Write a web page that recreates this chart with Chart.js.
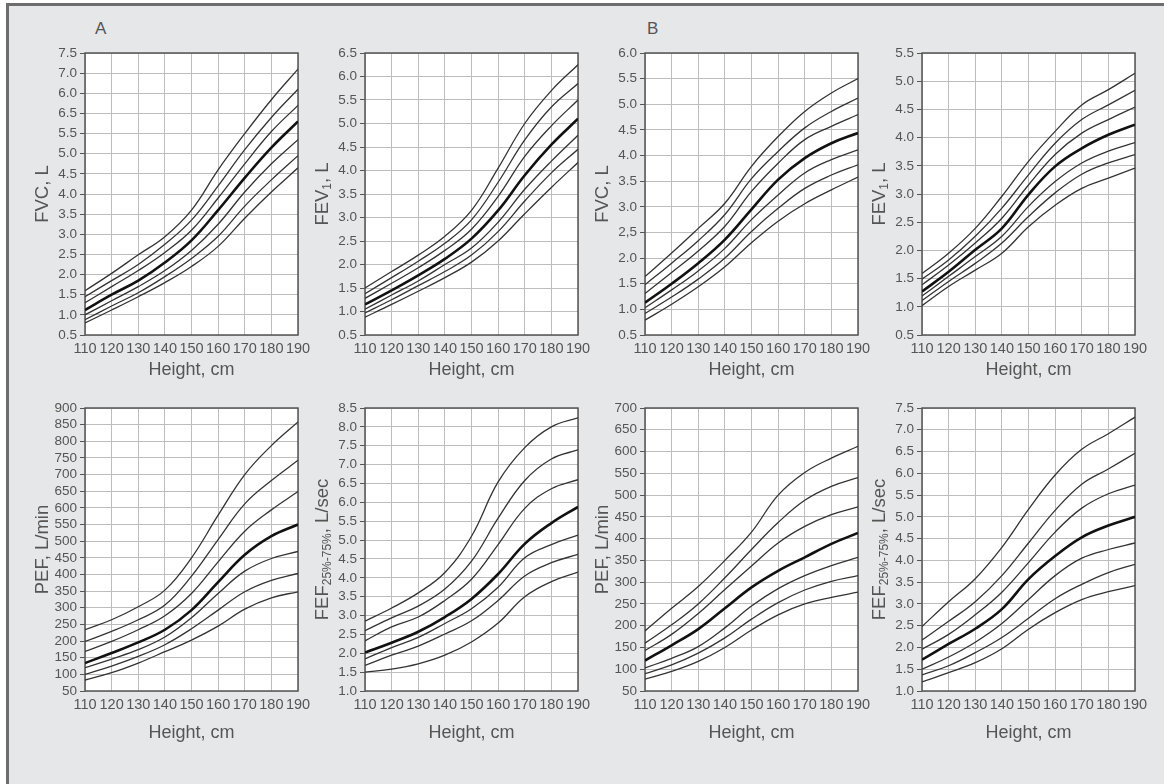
<!DOCTYPE html>
<html>
<head>
<meta charset="utf-8">
<script src="https://cdn.jsdelivr.net/npm/chart.js@4.4.0/dist/chart.umd.min.js"></script>
<style>
html, body { margin: 0; padding: 0; background: #fff; width: 1164px; height: 784px; overflow: hidden; font-family: "Liberation Sans", Arial, Helvetica, sans-serif; }
#frame { position: absolute; left: 6px; top: 3px; width: 1200px; height: 850px; background: #e6e7e8; border-left: 3px solid #6d6d6d; border-top: 3px solid #6d6d6d; }
canvas { position: absolute; }
.tag { position: absolute; font-size: 17px; line-height: 17px; color: #555; }
</style>
</head>
<body>
<div id="frame"></div>
<div class="tag" style="left:95px;top:20px">A</div>
<div class="tag" style="left:647px;top:20px">B</div>

<script>
// height axis, cm
const heights = [110, 120, 130, 140, 150, 160, 170, 180, 190];

// each panel: 7 percentile curves, top to bottom (4th one is the bold median)
const fvcA = [
  [1.60, 2.03, 2.49, 2.94, 3.60, 4.60, 5.50, 6.34, 7.10],
  [1.45, 1.85, 2.25, 2.75, 3.35, 4.20, 5.10, 5.90, 6.60],
  [1.30, 1.70, 2.10, 2.55, 3.10, 3.90, 4.75, 5.55, 6.20],
  [1.12, 1.50, 1.85, 2.30, 2.85, 3.60, 4.40, 5.15, 5.80],
  [1.00, 1.35, 1.70, 2.10, 2.60, 3.25, 4.05, 4.75, 5.35],
  [0.88, 1.22, 1.55, 1.95, 2.40, 2.95, 3.70, 4.35, 4.95],
  [0.80, 1.12, 1.45, 1.80, 2.20, 2.70, 3.40, 4.05, 4.65]
];
const fev1A = [
  [1.50, 1.85, 2.20, 2.60, 3.15, 4.05, 5.00, 5.70, 6.25],
  [1.38, 1.72, 2.07, 2.45, 2.95, 3.75, 4.65, 5.35, 5.85],
  [1.28, 1.60, 1.93, 2.30, 2.75, 3.45, 4.30, 4.95, 5.50],
  [1.15, 1.45, 1.77, 2.12, 2.55, 3.15, 3.90, 4.55, 5.10],
  [1.05, 1.35, 1.65, 2.00, 2.35, 2.90, 3.60, 4.20, 4.75],
  [0.97, 1.25, 1.55, 1.85, 2.20, 2.70, 3.35, 3.95, 4.45],
  [0.88, 1.15, 1.43, 1.72, 2.05, 2.50, 3.08, 3.64, 4.17]
];
const fvcB = [
  [1.64, 2.10, 2.58, 3.07, 3.79, 4.37, 4.86, 5.22, 5.50],
  [1.48, 1.90, 2.34, 2.85, 3.55, 4.08, 4.54, 4.86, 5.12],
  [1.31, 1.72, 2.14, 2.62, 3.30, 3.85, 4.31, 4.57, 4.80],
  [1.13, 1.50, 1.90, 2.36, 2.95, 3.53, 3.95, 4.24, 4.44],
  [1.03, 1.38, 1.75, 2.19, 2.75, 3.23, 3.66, 3.92, 4.11],
  [0.92, 1.24, 1.59, 2.00, 2.52, 2.97, 3.36, 3.62, 3.82],
  [0.79, 1.10, 1.44, 1.83, 2.30, 2.72, 3.06, 3.33, 3.58]
];
const fev1B = [
  [1.59, 1.95, 2.39, 2.96, 3.58, 4.11, 4.58, 4.85, 5.14],
  [1.49, 1.83, 2.25, 2.75, 3.34, 3.90, 4.32, 4.58, 4.84],
  [1.39, 1.74, 2.13, 2.57, 3.16, 3.70, 4.08, 4.32, 4.54],
  [1.27, 1.62, 2.01, 2.39, 2.99, 3.49, 3.81, 4.05, 4.23],
  [1.19, 1.54, 1.89, 2.25, 2.78, 3.22, 3.55, 3.76, 3.91],
  [1.11, 1.45, 1.77, 2.13, 2.60, 3.02, 3.35, 3.55, 3.70],
  [1.02, 1.36, 1.65, 1.95, 2.42, 2.80, 3.10, 3.28, 3.46]
];
const pefA = [
  [234, 264, 303, 353, 450, 578, 700, 787, 858],
  [199, 229, 264, 308, 395, 505, 612, 682, 743],
  [169, 199, 234, 276, 343, 438, 530, 594, 649],
  [134, 164, 196, 234, 293, 377, 459, 515, 550],
  [120, 146, 174, 212, 270, 343, 410, 448, 469],
  [100, 125, 154, 189, 237, 293, 348, 382, 403],
  [83, 105, 134, 168, 203, 245, 296, 330, 348]
];
const fefA = [
  [2.85, 3.20, 3.60, 4.14, 5.10, 6.54, 7.45, 8.00, 8.24],
  [2.60, 2.94, 3.25, 3.70, 4.44, 5.58, 6.58, 7.15, 7.39],
  [2.33, 2.70, 2.96, 3.40, 3.96, 4.88, 5.84, 6.36, 6.60],
  [2.02, 2.28, 2.57, 2.96, 3.44, 4.10, 4.90, 5.45, 5.88],
  [1.85, 2.15, 2.42, 2.79, 3.18, 3.75, 4.53, 4.88, 5.13],
  [1.68, 1.95, 2.19, 2.51, 2.86, 3.40, 4.05, 4.40, 4.62],
  [1.50, 1.58, 1.72, 1.95, 2.30, 2.80, 3.50, 3.90, 4.15]
];
const pefB = [
  [188, 240, 290, 350, 415, 500, 552, 585, 612],
  [160, 202, 250, 310, 375, 437, 488, 520, 540],
  [143, 180, 228, 283, 337, 390, 428, 455, 473],
  [120, 155, 192, 240, 288, 326, 357, 388, 413],
  [103, 125, 152, 195, 245, 285, 315, 338, 357],
  [90, 110, 137, 172, 215, 253, 282, 302, 315],
  [77, 95, 118, 150, 190, 225, 250, 265, 277]
];
const fefB = [
  [2.48, 3.05, 3.58, 4.30, 5.17, 5.96, 6.55, 6.91, 7.29],
  [2.17, 2.60, 3.05, 3.65, 4.40, 5.15, 5.75, 6.10, 6.46],
  [1.96, 2.30, 2.75, 3.27, 3.95, 4.65, 5.20, 5.53, 5.73],
  [1.72, 2.08, 2.43, 2.88, 3.57, 4.10, 4.53, 4.80, 5.00],
  [1.50, 1.78, 2.12, 2.55, 3.10, 3.65, 4.05, 4.25, 4.40],
  [1.37, 1.58, 1.88, 2.23, 2.67, 3.12, 3.45, 3.72, 3.91],
  [1.21, 1.42, 1.65, 1.97, 2.42, 2.80, 3.10, 3.28, 3.42]
];

// y tick labels, bottom to top (as printed, typos included)
const ticksFvcA = ['0.5', '1.0', '1.5', '2.0', '2.5', '3.0', '3.5', '4.0', '4.5', '5.0', '5.5', '6.5', '6.0', '7.0', '7.5'];
const ticksFev1A = ['0.5', '1.0', '1.5', '2.0', '2.5', '3.0', '3.5', '4.0', '4.5', '5.0', '5.5', '6.0', '6.5'];
const ticksFvcB = ['0.5', '1.0', '1.5', '2.0', '2,5', '3.0', '3.5', '4.0', '4.5', '5.0', '5.5', '6.0'];
const ticksFev1B = ['0.5', '1.0', '1.5', '2.0', '2.5', '3.0', '3.5', '4.0', '4.5', '5.0', '5.5'];
const ticksPefA = ['50', '100', '150', '200', '250', '300', '350', '400', '450', '500', '550', '600', '650', '700', '750', '800', '850', '900'];
const ticksFefA = ['1.0', '1.5', '2.0', '2.5', '3.0', '3.5', '4.0', '4.5', '5.0', '5.5', '6.0', '6.5', '7.0', '7.5', '8.0', '8.5'];
const ticksPefB = ['50', '100', '150', '200', '250', '300', '350', '400', '450', '500', '550', '600', '650', '700'];
const ticksFefB = ['1.0', '1.5', '2.0', '2.5', '3.0', '3.5', '4.0', '4.5', '5.0', '5.5', '6.0', '6.5', '7.0', '7.5'];

// y axis titles, [text, subscript?]
const titleFvc = [['FVC, L', false]];
const titleFev1 = [['FEV', false], ['1', true], [', L', false]];
const titlePef = [['PEF, L/min', false]];
const titleFef = [['FEF', false], ['25%-75%', true], [', L/sec', false]];

const FONT = '"Liberation Sans", Arial, Helvetica, sans-serif';
Chart.defaults.font.family = FONT;
Chart.defaults.color = '#555';

const PAD_L = 50, Y_W = 30, PAD_T = 12, PAD_R = 20, X_H = 30, PAD_B = 30;
const PLOT_W = 213;

const panels = [
  { rows: fvcA,  ticks: ticksFvcA,  title: titleFvc,  min: 0.5, max: 7.5, step: 0.5, left: 85,  top: 53,  h: 282, gap: 35 },
  { rows: fev1A, ticks: ticksFev1A, title: titleFev1, min: 0.5, max: 6.5, step: 0.5, left: 365, top: 53,  h: 282, gap: 35 },
  { rows: fvcB,  ticks: ticksFvcB,  title: titleFvc,  min: 0.5, max: 6.0, step: 0.5, left: 645, top: 53,  h: 282, gap: 35 },
  { rows: fev1B, ticks: ticksFev1B, title: titleFev1, min: 0.5, max: 5.5, step: 0.5, left: 922, top: 53,  h: 282, gap: 35 },
  { rows: pefA,  ticks: ticksPefA,  title: titlePef,  min: 50,  max: 900, step: 50,  left: 85,  top: 408, h: 283, gap: 42 },
  { rows: fefA,  ticks: ticksFefA,  title: titleFef,  min: 1.0, max: 8.5, step: 0.5, left: 365, top: 408, h: 283, gap: 42 },
  { rows: pefB,  ticks: ticksPefB,  title: titlePef,  min: 50,  max: 700, step: 50,  left: 645, top: 408, h: 283, gap: 42 },
  { rows: fefB,  ticks: ticksFefB,  title: titleFef,  min: 1.0, max: 7.5, step: 0.5, left: 922, top: 408, h: 283, gap: 42 }
];

const panelDeco = {
  id: 'panelDeco',
  beforeDraw(chart) {
    const { ctx, chartArea: a } = chart;
    ctx.save();
    ctx.fillStyle = '#fff';
    ctx.fillRect(a.left, a.top, a.width, a.height);
    ctx.restore();
  },
  beforeDatasetsDraw(chart) {
    const { ctx, chartArea: a } = chart;
    ctx.save();
    ctx.strokeStyle = '#555';
    ctx.lineWidth = 1.5;
    ctx.strokeRect(a.left, a.top, a.width, a.height);
    ctx.restore();
  },
  afterDraw(chart, args, opts) {
    const { ctx, chartArea: a } = chart;
    ctx.save();
    ctx.fillStyle = '#555';
    ctx.font = '18px ' + FONT;
    ctx.textAlign = 'center';
    ctx.textBaseline = 'middle';
    ctx.fillText('Height, cm', (a.left + a.right) / 2, a.bottom + opts.gap);

    ctx.translate(a.left - 44, (a.top + a.bottom) / 2);
    ctx.rotate(-Math.PI / 2);
    ctx.textAlign = 'left';
    ctx.textBaseline = 'alphabetic';
    const big = '18.5px ' + FONT, small = '12px ' + FONT;
    let w = 0;
    opts.parts.forEach(p => {
      ctx.font = p[1] ? small : big;
      w += ctx.measureText(p[0]).width;
    });
    let x = -w / 2;
    opts.parts.forEach(p => {
      ctx.font = p[1] ? small : big;
      ctx.fillText(p[0], x, p[1] ? 10 : 6.5);
      x += ctx.measureText(p[0]).width;
    });
    ctx.restore();
  }
};

panels.forEach(p => {
  const cv = document.createElement('canvas');
  const cw = PAD_L + Y_W + PLOT_W + PAD_R;
  const ch = PAD_T + p.h + X_H + PAD_B;
  cv.width = cw;
  cv.height = ch;
  cv.style.left = (p.left - PAD_L - Y_W) + 'px';
  cv.style.top = (p.top - PAD_T) + 'px';
  cv.style.width = cw + 'px';
  cv.style.height = ch + 'px';
  document.body.appendChild(cv);

  new Chart(cv, {
    type: 'line',
    data: {
      datasets: p.rows.map((r, i) => ({
        data: r.map((v, j) => ({ x: heights[j], y: v })),
        borderColor: i === 3 ? '#111' : '#333',
        borderWidth: i === 3 ? 2.6 : 1.3,
        pointRadius: 0,
        tension: 0.4,
        fill: false
      }))
    },
    options: {
      responsive: false,
      animation: false,
      layout: { padding: { left: PAD_L, top: PAD_T, right: PAD_R, bottom: PAD_B } },
      plugins: {
        legend: { display: false },
        tooltip: { enabled: false },
        panelDeco: { parts: p.title, gap: p.gap }
      },
      scales: {
        x: {
          type: 'linear',
          min: 110,
          max: 190,
          afterFit: s => { s.height = X_H; },
          ticks: { stepSize: 10, autoSkip: false, maxRotation: 0, padding: 5, color: '#555', font: { size: 14.5 } },
          grid: { color: '#bdbdbd', drawTicks: false },
          border: { display: false }
        },
        y: {
          min: p.min,
          max: p.max,
          afterFit: s => { s.width = Y_W; },
          ticks: { stepSize: p.step, autoSkip: false, padding: 3, color: '#555', font: { size: 13.5 }, callback: (v, i) => p.ticks[i] },
          grid: { color: '#bdbdbd', tickColor: '#555', tickLength: 5 },
          border: { display: false }
        }
      }
    },
    plugins: [panelDeco]
  });
});
</script>
</body>
</html>
